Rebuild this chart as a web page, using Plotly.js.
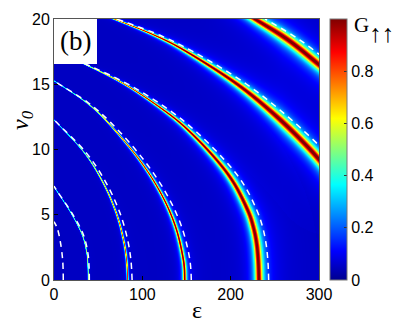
<!DOCTYPE html>
<html>
<head>
<meta charset="utf-8">
<script src="https://cdn.plot.ly/plotly-3.0.1.min.js"></script>
<style>
  html, body { margin: 0; padding: 0; background: #fff; }
  #grafico { width: 409px; height: 327px; }
</style>
</head>
<body>
<div id="grafico"></div>
<script>
// Ridges of G: v0 ascending, epsilon at each v0
const ridge2V0  = [0, 1, 2.05, 3.45, 5.11, 6.77, 7.14];
const ridge2Eps = [38.8, 38.5, 37.2, 32.0, 19.5, 3.7, 0];
const ridge3V0  = [0, 1.5, 3.07, 5.11, 7.41, 9.74, 12.08, 12.25];
const ridge3Eps = [83.4, 82.2, 78.7, 70.6, 55.9, 34.5, 2.7, 0];
const ridge4V0  = [0, 1.53, 4.08, 6.64, 9.27, 12.08, 13.62, 15.15, 15.25];
const ridge4Eps = [148, 146.5, 137.6, 121, 96, 60.9, 36.3, 2.6, 0];
const ridge5V0  = [0, 1.4, 2.81, 4.1, 5.36, 7.41, 9.2, 11.3, 12.85, 14.89, 16.42, 17.5];
const ridge5Eps = [232, 231.3, 229.4, 225.5, 219.2, 203.8, 184.1, 154.7, 127.6, 82.7, 38.3, 0];
const ridge6V0  = [8, 10, 12.5, 15, 17.5, 18.75, 20, 21];
const ridge6Eps = [315, 290, 252.5, 207.5, 150, 114, 67.9, 25];
const ridge7V0  = [15, 16.5, 18.4, 20, 21];
const ridge7Eps = [326, 300, 265, 227.5, 203];

// White dashed curves (approximation drawn over the map)
const dash1V0  = [0, 1.53, 3.07, 4.0, 4.47];
const dash1Eps = [10.5, 9.8, 6.8, 3.5, 0];
const dash2V0  = [0, 1, 2.05, 3.45, 5.11, 6.77, 7.2];
const dash2Eps = [40, 39.7, 38.4, 33.4, 20.5, 4, 0];
const dash3V0  = [0, 1.5, 3.07, 5.11, 7.41, 9.74, 12.08, 12.3];
const dash3Eps = [88.4, 87.1, 83.4, 74.8, 59.3, 36.6, 2.9, 0];
const dash4V0  = [0, 1.53, 4.08, 6.64, 9.27, 12.08, 13.62, 15.15, 15.35];
const dash4Eps = [155.4, 153.8, 144.5, 127, 100.8, 64, 38, 3, 0];
const dash5V0  = [0, 1.4, 2.81, 4.1, 5.36, 7.41, 9.2, 11.3, 12.85, 14.89, 16.42, 17.6];
const dash5Eps = [243, 242.2, 240, 236, 229.5, 214, 193, 162, 134, 87, 40, 0];
const dash6V0  = [8, 10, 12.5, 15, 17.5, 18.75, 20];
const dash6Eps = [331, 304.5, 265, 218, 157.5, 120, 71];
const dash7V0  = [15, 16.5, 18.4, 20];
const dash7Eps = [342, 315, 278, 239];

const epsTicks = [0, 100, 200, 300];
const v0Ticks = [0, 5, 10, 15, 20];
const gTicks = [0, 0.2, 0.4, 0.6, 0.8];
const gTickText = ['0', '0.2', '0.4', '0.6', '0.8'];

const ridges = [
    [ridge2V0, ridge2Eps], [ridge3V0, ridge3Eps], [ridge4V0, ridge4Eps],
    [ridge5V0, ridge5Eps], [ridge6V0, ridge6Eps], [ridge7V0, ridge7Eps]
];
const dashes = [
    [dash1V0, dash1Eps], [dash2V0, dash2Eps], [dash3V0, dash3Eps], [dash4V0, dash4Eps],
    [dash5V0, dash5Eps], [dash6V0, dash6Eps], [dash7V0, dash7Eps]
];

// grid ~ one cell per screen pixel
const nx = 265, ny = 261;
const sx = nx / 300, sy = ny / 20;
const xs = [], ys = [];
for (let i = 0; i < nx; i++) xs.push((i + 0.5) / sx);
for (let j = 0; j < ny; j++) ys.push((j + 0.5) / sy);

// smooth the read-off points (Catmull-Rom) so the ridge has no kinks
function suavizar(X, Y, pasos) {
    const n = X.length, outX = [], outY = [];
    const gx = k => X[Math.max(0, Math.min(n - 1, k))];
    const gy = k => Y[Math.max(0, Math.min(n - 1, k))];
    for (let k = 0; k < n - 1; k++) {
        for (let s = 0; s < pasos; s++) {
            const t = s / pasos, t2 = t * t, t3 = t2 * t;
            const f = (p0, p1, p2, p3) => 0.5 * (2 * p1 + (-p0 + p2) * t +
                (2 * p0 - 5 * p1 + 4 * p2 - p3) * t2 + (-p0 + 3 * p1 - 3 * p2 + p3) * t3);
            outX.push(f(gx(k - 1), gx(k), gx(k + 1), gx(k + 2)));
            outY.push(f(gy(k - 1), gy(k), gy(k + 1), gy(k + 2)));
        }
    }
    outX.push(X[n - 1]); outY.push(Y[n - 1]);
    return { X: outX, Y: outY };
}

// ridges in pixel space
const polys = ridges.map(r => suavizar(r[1].map(e => e * sx), r[0].map(v => v * sy), 12));

function distPoly(px, py, P) {
    let best = Infinity;
    for (let k = 0; k < P.X.length - 1; k++) {
        const ax = P.X[k], ay = P.Y[k];
        const dx = P.X[k + 1] - ax, dy = P.Y[k + 1] - ay;
        const L = dx * dx + dy * dy;
        let t = L > 0 ? ((px - ax) * dx + (py - ay) * dy) / L : 0;
        t = Math.max(0, Math.min(1, t));
        const ex = ax + t * dx - px, ey = ay + t * dy - py;
        const d2 = ex * ex + ey * ey;
        if (d2 < best) best = d2;
    }
    return Math.sqrt(best);
}

const fondo = 0.05;
const z = [];
for (let j = 0; j < ny; j++) {
    const fila = [];
    const py = j + 0.5;
    for (let i = 0; i < nx; i++) {
        const px = i + 0.5;
        const e = xs[i];
        // width of the resonance grows with epsilon
        const w = Math.min(4, 0.12 + 0.58 * Math.pow(e / 100, 2));
        let val = fondo;
        polys.forEach(P => {
            const d = distPoly(px, py, P);
            if (d > 60) return;
            // lorentzian averaged over one pixel
            val += w * (Math.atan((d + 0.5) / w) - Math.atan((d - 0.5) / w));
        });
        fila.push(Math.min(1, val));
    }
    z.push(fila);
}

const jet = [
    [0, 'rgb(0,0,143)'], [0.111, 'rgb(0,0,255)'], [0.365, 'rgb(0,255,255)'],
    [0.619, 'rgb(255,255,0)'], [0.873, 'rgb(255,0,0)'], [1, 'rgb(128,0,0)']
];

const mapa = {
    type: 'heatmap',
    x: xs, y: ys, z: z,
    zmin: 0, zmax: 1,
    zsmooth: false,
    colorscale: jet,
    hoverinfo: 'skip',
    colorbar: {
        x: (330 - 54) / 265, xanchor: 'left', xpad: 0,
        y: 0.5, yanchor: 'middle', ypad: 0,
        len: 1, thickness: 17,
        outlinewidth: 1, outlinecolor: '#777',
        tickvals: gTicks, ticktext: gTickText,
        ticks: 'inside', ticklen: 3, tickcolor: '#333',
        tickfont: { family: 'Liberation Sans, Arial', size: 16, color: '#000' }
    }
};

const lineas = dashes.map(dd => ({
    type: 'scatter', mode: 'lines',
    x: dd[1], y: dd[0],
    line: { color: '#fff', width: 1.5, dash: '6px,5px', shape: 'spline' },
    hoverinfo: 'skip'
}));

const ejeBase = {
    ticks: 'inside', ticklen: 4, tickcolor: '#000',
    showline: true, mirror: true, linecolor: '#555', linewidth: 1,
    showgrid: false, zeroline: false,
    tickfont: { family: 'Liberation Sans, Arial', size: 16, color: '#000' }
};

const serif = 'Liberation Serif, Times New Roman, serif';

function rotulo(texto, xpx, ypx, size, extra) {
    return Object.assign({
        text: texto, xref: 'paper', yref: 'paper',
        x: (xpx - 54) / 265, y: (280 - ypx) / 261,
        xanchor: 'center', yanchor: 'middle', showarrow: false,
        font: { family: serif, size: size, color: '#000' }
    }, extra || {});
}

const layout = {
    width: 409, height: 327,
    margin: { l: 54, r: 90, t: 19, b: 47, pad: 0 },
    paper_bgcolor: '#fff', plot_bgcolor: '#fff',
    showlegend: false,
    xaxis: Object.assign({}, ejeBase, { range: [0, 300], tickvals: epsTicks }),
    yaxis: Object.assign({}, ejeBase, { range: [0, 20], tickvals: v0Ticks }),
    shapes: [{
        type: 'rect', xref: 'paper', yref: 'paper',
        x0: 0, x1: 43 / 265, y0: (280 - 64) / 261, y1: 1,
        fillcolor: '#fff', line: { width: 0 }, layer: 'above'
    }],
    annotations: [
        rotulo('(b)', 75.5, 41.5, 27),
        rotulo('ε', 197, 310, 24),
        rotulo('<i>v<sub>0</sub></i>', 22, 120, 24, { textangle: -90 }),
        rotulo('G', 361, 25, 21),
        rotulo('↑↑', 381, 33, 25)
    ]
};

Plotly.newPlot('grafico', [mapa].concat(lineas), layout, { staticPlot: true, displayModeBar: false });
</script>
</body>
</html>
